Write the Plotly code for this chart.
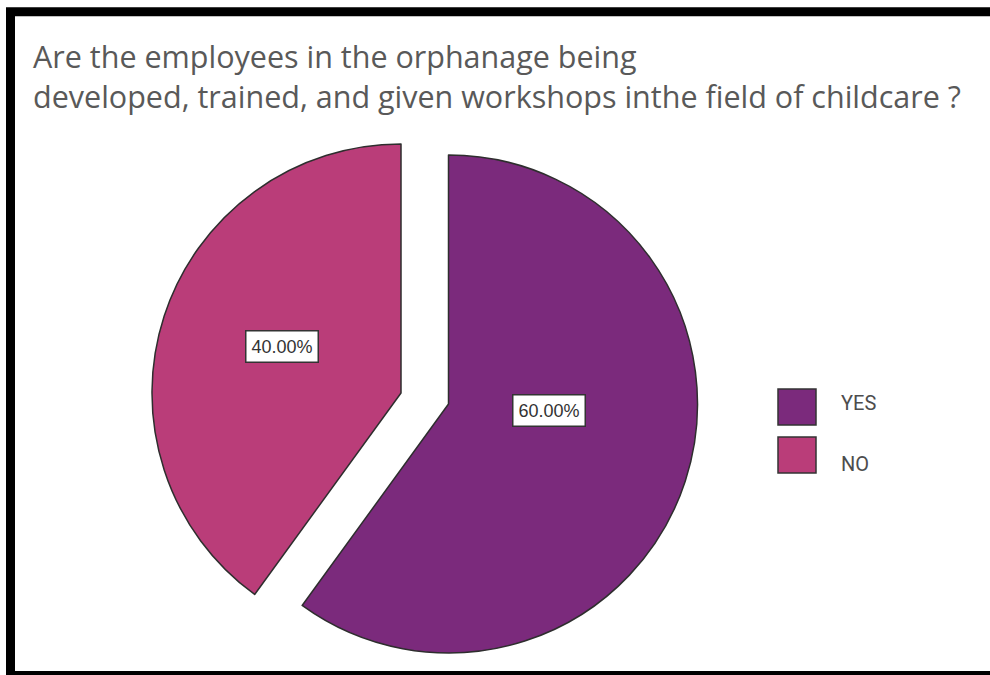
import plotly.graph_objects as go

# Survey answers
labels = ["YES", "NO"]
values = [60, 40]
colors = ["#7B2A7C", "#BA3D79"]

title_lines = [
    "\u00a0Are the employees in the orphanage being",
    "developed, trained, and given workshops inthe field of childcare ?",
]

W, H = 990, 675
R = 249  # pie radius in px
# slice centres in px (the NO slice is exploded towards upper left)
centres = {"YES": (448.5, 404), "NO": (401, 393)}
# percentage label boxes, px
label_pos = {"YES": (549, 410), "NO": (282, 346)}
# legend swatches, px (top-left corner) and text offsets
swatch_pos = {"YES": (778, 389), "NO": (778, 437)}
text_dy = {"YES": -4, "NO": 9}
SW, SH = 38, 36


def px_x(x):
    return x / W


def px_y(y):
    return 1 - y / H


fig = go.Figure()

total = sum(values)
for i, lab in enumerate(labels):
    cx, cy = centres[lab]
    fill = [colors[j] if j == i else "rgba(0,0,0,0)" for j in range(len(labels))]
    edge = ["#2e2e2e" if j == i else "rgba(0,0,0,0)" for j in range(len(labels))]
    fig.add_trace(
        go.Pie(
            labels=labels,
            values=values,
            sort=False,
            direction="clockwise",
            rotation=0,
            marker={"colors": fill, "line": {"color": edge, "width": 1.5}},
            textinfo="none",
            hoverinfo="label+percent",
            showlegend=False,
            domain={
                "x": [px_x(cx - R), px_x(cx + R)],
                "y": [px_y(cy + R), px_y(cy - R)],
            },
        )
    )

annotations = []
shapes = []

# percentage boxes
for lab, v in zip(labels, values):
    x, y = label_pos[lab]
    annotations.append(
        {
            "text": f"{v / total * 100:.2f}%",
            "x": px_x(x),
            "y": px_y(y),
            "xref": "paper",
            "yref": "paper",
            "xanchor": "center",
            "yanchor": "middle",
            "showarrow": False,
            "font": {"family": "Liberation Sans, Arial", "size": 18, "color": "#333333"},
            "width": 66,
            "height": 25,
            "bgcolor": "white",
            "bordercolor": "#333333",
            "borderwidth": 1.5,
            "borderpad": 2.5,
        }
    )

# legend drawn by hand so the swatches get the big size of the original
for lab, c in zip(labels, colors):
    x, y = swatch_pos[lab]
    shapes.append(
        {
            "type": "rect",
            "xref": "paper",
            "yref": "paper",
            "x0": px_x(x),
            "x1": px_x(x + SW),
            "y0": px_y(y + SH),
            "y1": px_y(y),
            "fillcolor": c,
            "line": {"color": "#333333", "width": 1.5},
        }
    )
    annotations.append(
        {
            "text": lab,
            "x": px_x(x + SW + 23),
            "y": px_y(y + SH / 2 + text_dy[lab]),
            "xref": "paper",
            "yref": "paper",
            "xanchor": "left",
            "yanchor": "middle",
            "showarrow": False,
            "font": {"family": "Roboto", "size": 20, "color": "#4d4d4d"},
        }
    )

# black frame around the picture (right and bottom run off the edge)
shapes.append(
    {
        "type": "rect",
        "xref": "paper",
        "yref": "paper",
        "x0": px_x(10.5),
        "x1": px_x(W + 20),
        "y0": px_y(675.5),
        "y1": px_y(11.7),
        "line": {"color": "black", "width": 9},
        "fillcolor": "rgba(0,0,0,0)",
    }
)

fig.update_layout(
    width=W,
    height=H,
    margin={"l": 0, "r": 0, "t": 0, "b": 0},
    paper_bgcolor="white",
    plot_bgcolor="white",
    title={
        "text": "<br>".join(title_lines),
        "x": px_x(33),
        "xanchor": "left",
        "xref": "paper",
        "y": px_y(68),
        "yanchor": "top",
        "yref": "container",
        "font": {"family": "Open Sans", "size": 30.5, "color": "#595959"},
    },
    shapes=shapes,
    annotations=annotations,
)

# no page margin, so the figure sits at the window corner
fig.write_html(
    "out.html",
    config={"displayModeBar": False},
    post_script="document.body.style.margin='0';document.body.style.overflow='hidden';",
)
